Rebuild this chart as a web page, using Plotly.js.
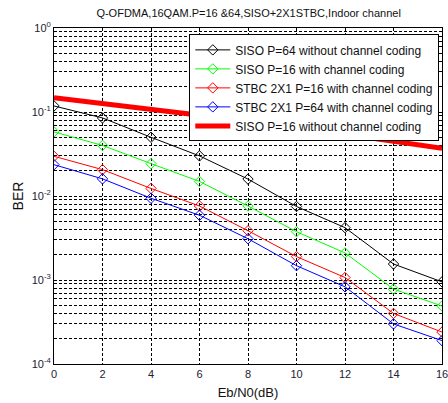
<!DOCTYPE html>
<html><head><meta charset="utf-8">
<script src="https://cdn.plot.ly/plotly-3.0.1.min.js"></script>
<style>body{margin:0;background:#fff}#c{width:448px;height:403px}</style>
</head><body><div id="c"></div>
<script>
const ebn0 = [0, 2, 4, 6, 8, 10, 12, 14, 16];
const sisoP64NoCoding = [0.118, 0.085, 0.050, 0.030, 0.0159, 0.0075, 0.0042, 0.00155, 0.00095];
const sisoP16Coding = [0.058, 0.040, 0.0243, 0.0149, 0.0076, 0.00376, 0.0021, 0.00078, 0.00049];
const stbcP16Coding = [0.0297, 0.0206, 0.0123, 0.0076, 0.00386, 0.0019, 0.00107, 0.0004, 0.00024];
const stbcP64Coding = [0.0236, 0.016, 0.0094, 0.0059, 0.0031, 0.00148, 0.00083, 0.0003, 0.00019];
const sisoP16NoCoding = [0.148, 0.127, 0.108, 0.092, 0.078, 0.066, 0.055, 0.045, 0.037];
const names = ["SISO P=64 without channel coding", "SISO P=16 with channel coding",
  "STBC 2X1 P=16 with channel coding", "STBC 2X1 P=64 with channel coding",
  "SISO P=16 without channel coding"];
const yTickVals = [1e-4, 1e-3, 1e-2, 1e-1, 1];
const yTickText = ["10<sup>-4</sup>", "10<sup>-3</sup>", "10<sup>-2</sup>", "10<sup>-1</sup>", "10<sup>0</sup>"];
const xTickVals = [0, 2, 4, 6, 8, 10, 12, 14, 16];

function mk(y, name, color) {
  return {x: ebn0, y: y, name: name, type: 'scatter', mode: 'lines+markers',
    line: {color: color, width: 1},
    marker: {symbol: 'diamond-open', size: 8, color: color, line: {width: 1, color: color}}};
}
const data = [
  mk(sisoP64NoCoding, names[0], '#000000'),
  mk(sisoP16Coding, names[1], '#00ff00'),
  mk(stbcP16Coding, names[2], '#ff0000'),
  mk(stbcP64Coding, names[3], '#0000ff'),
  {x: ebn0, y: sisoP16NoCoding, name: names[4], type: 'scatter', mode: 'lines',
   line: {color: '#ff0000', width: 5}}
];
const ff = 'Liberation Sans, Arial, sans-serif';
const gdash = '3px,2px';
const layout = {
  width: 448, height: 403,
  margin: {l: 54, r: 6, t: 28, b: 39},
  paper_bgcolor: '#fff', plot_bgcolor: '#fff',
  font: {family: ff, size: 11, color: '#111'},
  title: {text: 'Q-OFDMA,16QAM.P=16 &64,SISO+2X1STBC,Indoor channel', font: {size: 11, color: '#111'}, x: 0.555, xanchor: 'center', y: 0.967, yanchor: 'middle'},
  xaxis: {range: [0, 16], tickvals: xTickVals, ticks: '', ticklabeloverflow: 'allow',
    showline: true, linecolor: '#000', linewidth: 1, mirror: true,
    showgrid: true, gridcolor: '#000', griddash: gdash, gridwidth: 1, zeroline: false,
    tickfont: {size: 11, color: '#223'},
    title: {text: 'Eb/N0(dB)', font: {size: 13, color: '#111'}, standoff: 8}},
  yaxis: {type: 'log', range: [-4, 0], tickvals: yTickVals, ticktext: yTickText,
    ticks: '', ticklabeloverflow: 'allow',
    showline: true, linecolor: '#000', linewidth: 1, mirror: true,
    showgrid: true, gridcolor: '#000', griddash: gdash, gridwidth: 1, zeroline: false,
    tickfont: {size: 11, color: '#223'},
    minor: {dtick: 'D1', showgrid: true, gridcolor: '#000', griddash: gdash, gridwidth: 1, ticks: ''},
    title: {text: 'BER', font: {size: 14, color: '#111'}, standoff: 4}},
  showlegend: true,
  legend: {x: 0.993, xanchor: 'right', y: 0.981, yanchor: 'top', bgcolor: '#fff',
    bordercolor: '#000', borderwidth: 1, font: {size: 12, color: '#111'},
    itemwidth: 35, tracegroupgap: 0}
};
Plotly.newPlot('c', data, layout, {displayModeBar: false, staticPlot: true});
</script></body></html>
